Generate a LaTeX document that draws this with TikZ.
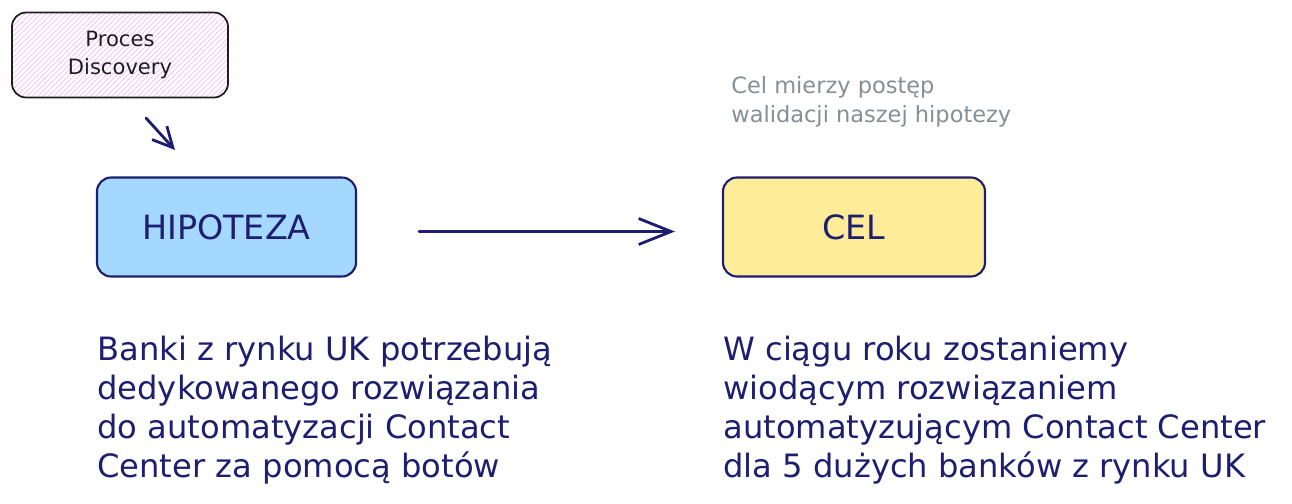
\documentclass[tikz,border=0pt]{standalone}
\usepackage{fontspec}
\setmainfont{DejaVu Sans}
\usetikzlibrary{arrows.meta,patterns}
\definecolor{HcNavy}{RGB}{30,30,112}
\definecolor{HcInk}{RGB}{30,30,30}
\definecolor{HcGray}{RGB}{134,142,150}
\definecolor{HcBlue}{RGB}{165,216,255}
\definecolor{HcYellow}{RGB}{255,236,153}
\definecolor{HcPink}{RGB}{238,190,250}
\tikzset{
  hc/box/.style={
    draw=HcNavy,
    line width=1.2pt,
    rounded corners=8pt,
    align=center,
    text=HcNavy,
    minimum height=1.98cm,
    font=\fontsize{19}{23}\selectfont
  },
  hc/sketchbox/.style={
    draw=HcInk,
    line width=1pt,
    rounded corners=8pt,
    pattern=north east lines,
    pattern color=HcPink,
    align=center,
    text=HcInk,
    minimum width=4.32cm,
    minimum height=1.7cm,
    font=\fontsize{12}{16}\selectfont
  },
  hc/body/.style={anchor=base west, inner sep=0pt, align=left, text=HcNavy, font=\fontsize{18.3}{22.1}\selectfont},
  hc/note/.style={anchor=base west, inner sep=0pt, align=left, text=HcGray, font=\fontsize{12.8}{16.4}\selectfont},
  hc/arrow/.style={-{Straight Barb[length=6.5mm,width=5.2mm]}, line width=1.6pt, draw=HcNavy, line cap=round},
  hc/smallarrow/.style={-{Straight Barb[length=4mm,width=4mm]}, line width=1.6pt, draw=HcNavy, line cap=round}
}
\begin{document}
\begin{tikzpicture}[x=1cm,y=1cm]
  \useasboundingbox (0,0) rectangle (25.84,10.06);
  \node[hc/sketchbox] (discovery) at (2.4,8.96) {Proces\\Discovery};
  \node[hc/box,fill=HcBlue,minimum width=5.18cm] (hipoteza) at (4.53,5.52) {HIPOTEZA};
  \node[hc/box,fill=HcYellow,minimum width=5.24cm] (cel) at (17.08,5.52) {CEL};
  \node[hc/note] (note) at (14.62,7.62) {Cel mierzy postęp\\walidacji naszej hipotezy};
  \node[hc/body] (hipotext) at (1.94,0.52) {Banki z rynku UK potrzebują\\dedykowanego rozwiązania\\do automatyzacji Contact\\Center za pomocą botów};
  \node[hc/body] (celtext) at (14.46,0.52) {W ciągu roku zostaniemy\\wiodącym rozwiązaniem\\automatyzującym Contact Center\\dla 5 dużych banków z rynku UK};
  \coordinate (dstart) at (2.92,7.70);
  \coordinate (dend) at (3.50,7.06);
  \draw[hc/smallarrow] (dstart) -- (dend);
  \draw[hc/arrow, shorten <=1.24cm, shorten >=0.94cm] ([yshift=-0.09cm]hipoteza.east) -- ([yshift=-0.09cm]cel.west);
\end{tikzpicture}
\end{document}
